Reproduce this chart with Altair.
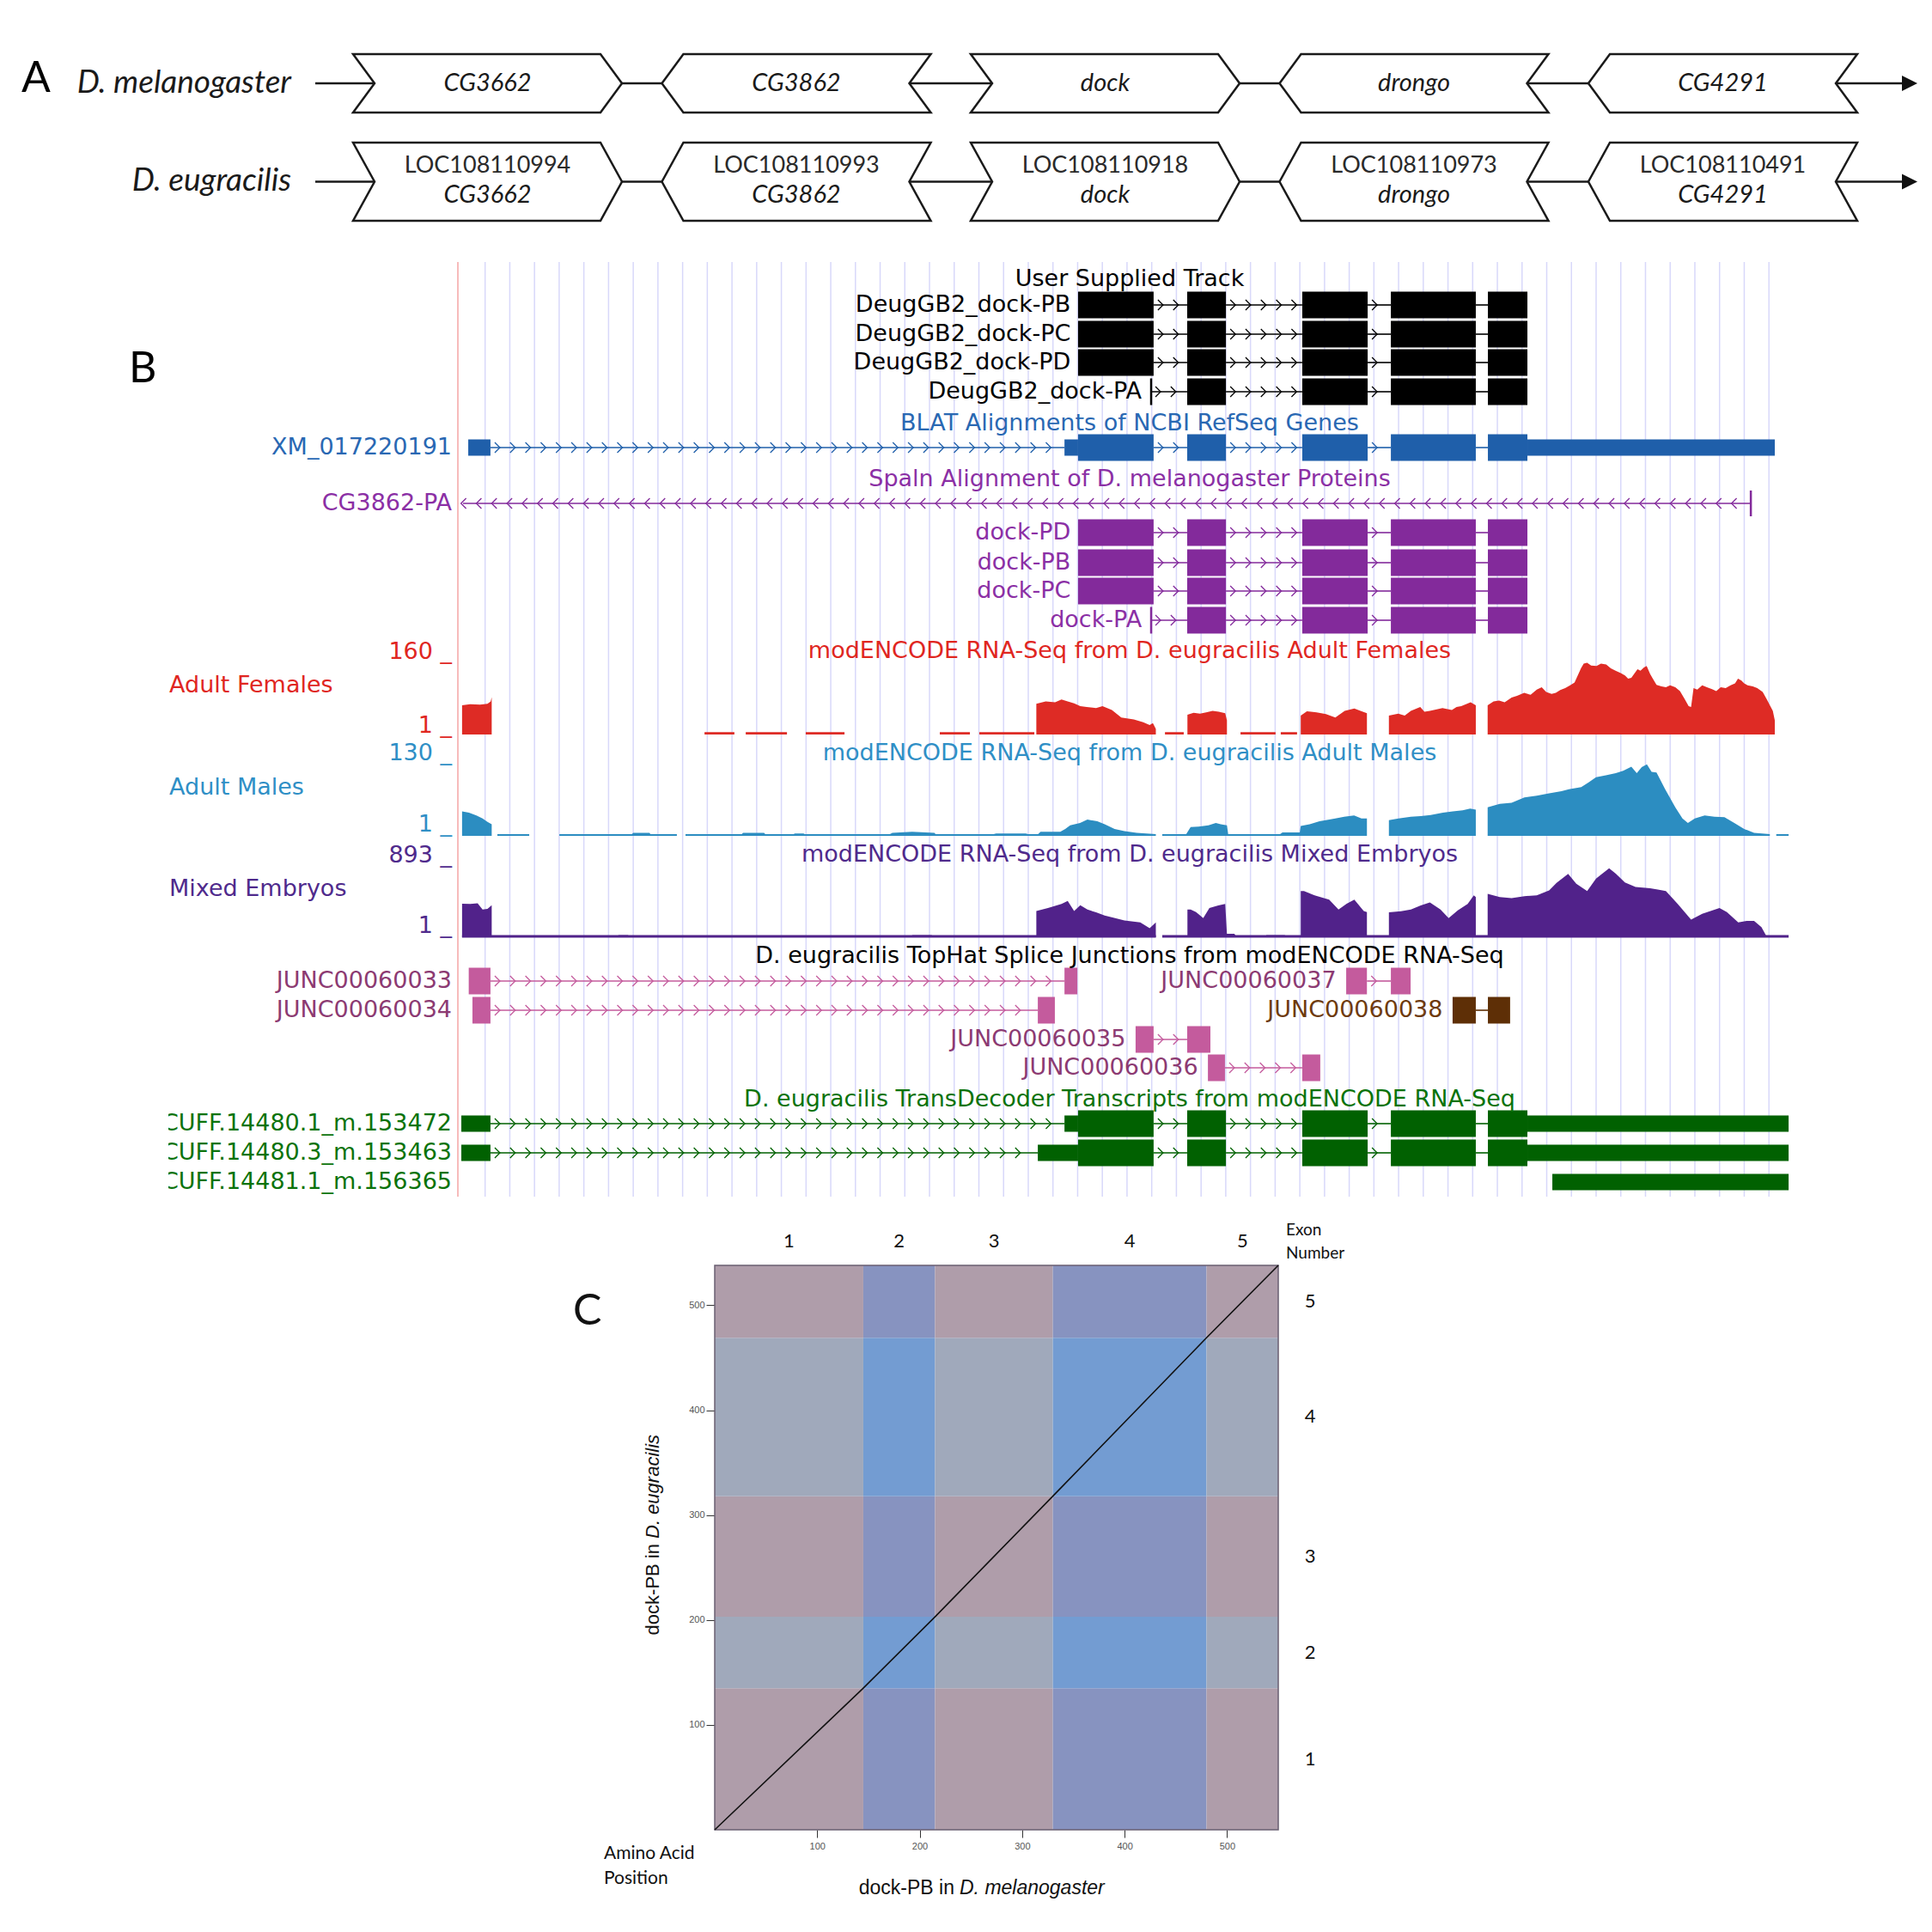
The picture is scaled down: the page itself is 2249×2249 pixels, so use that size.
import altair as alt
import pandas as pd

# ============================ DATA ============================
# ---- Panel A: gene neighbourhood ----
GENE_MEL = ["CG3662", "CG3862", "dock", "drongo", "CG4291"]
GENE_LOC = ["LOC108110994", "LOC108110993", "LOC108110918", "LOC108110973", "LOC108110491"]
GENE_DIR = [1, -1, 1, -1, -1]          # 1 = forward, -1 = reverse
SPECIES = ["D. melanogaster", "D. eugracilis"]

# ---- Panel B: genome browser (positions in kb across the window) ----
EXON_START = [25.12, 29.54, 34.20, 37.79, 41.72]
EXON_END = [28.18, 31.11, 36.85, 41.23, 43.32]
PA_START = 28.08
USER_TRACKS = ["DeugGB2_dock-PB", "DeugGB2_dock-PC", "DeugGB2_dock-PD", "DeugGB2_dock-PA"]
SPALN_TRACKS = ["dock-PD", "dock-PB", "dock-PC", "dock-PA"]
XM_NAME = "XM_017220191"
XM_UTR = [(0.42, 1.32), (24.57, 25.12), (43.32, 53.34)]
CG3862_NAME = "CG3862-PA"
CG3862_SPAN = (0.21, 52.37)
JUNC_NAMES = ["JUNC00060033", "JUNC00060034", "JUNC00060035",
              "JUNC00060036", "JUNC00060037", "JUNC00060038"]
JUNC_BLOCK1 = [(0.44, 1.32), (0.59, 1.32), (27.45, 28.18), (30.38, 31.07), (35.98, 36.82), (40.29, 41.23)]
JUNC_BLOCK2 = [(24.57, 25.09), (23.49, 24.18), (29.54, 30.48), (34.20, 34.93), (37.79, 38.59), (41.72, 42.62)]
CUFF_NAMES = ["CUFF.14480.1_m.153472", "CUFF.14480.3_m.153463", "CUFF.14481.1_m.156365"]
CUFF_UTR = [[(0.14, 1.32), (24.57, 25.12), (43.32, 53.90)],
            [(0.14, 1.32), (23.49, 25.12), (43.32, 53.90)],
            [(44.33, 53.90)]]
CUFF_HAS_CDS = [True, True, False]
TRACK_TITLES = ["User Supplied Track",
                "BLAT Alignments of NCBI RefSeq Genes",
                "Spaln Alignment of D. melanogaster Proteins",
                "modENCODE RNA-Seq from D. eugracilis Adult Females",
                "modENCODE RNA-Seq from D. eugracilis Adult Males",
                "modENCODE RNA-Seq from D. eugracilis Mixed Embryos",
                "D. eugracilis TopHat Splice Junctions from modENCODE RNA-Seq",
                "D. eugracilis TransDecoder Transcripts from modENCODE RNA-Seq"]
RNA_LABELS = ["Adult Females", "Adult Males", "Mixed Embryos"]
RNA_MAX = [160, 130, 893]

FEMALES = [
    [(0.17, 62), (0.5, 64), (0.9, 63), (1.2, 65), (1.33, 70), (1.37, 79)],
    [(9.99, 5), (11.20, 5)], [(11.66, 5), (13.33, 5)], [(14.09, 5), (15.66, 5)],
    [(19.52, 5), (20.74, 5)], [(21.12, 5), (23.35, 5)],
    [(23.43, 65), (23.81, 70), (24.19, 68), (24.45, 74), (24.70, 70), (24.96, 66), (25.21, 60),
     (25.47, 58), (25.85, 56), (26.11, 60), (26.49, 52), (26.87, 36), (27.38, 32), (27.76, 26),
     (28.02, 20), (28.15, 24), (28.27, 12)],
    [(28.64, 5), (29.40, 5)],
    [(29.55, 42), (29.80, 46), (30.06, 44), (30.31, 47), (30.57, 50), (30.82, 48), (31.08, 45), (31.15, 30)],
    [(31.70, 5), (33.12, 5)], [(33.33, 5), (33.99, 5)],
    [(34.14, 40), (34.39, 49), (34.78, 47), (35.16, 43), (35.54, 36), (35.92, 50), (36.31, 55),
     (36.56, 50), (36.82, 45)],
    [(37.71, 40), (38.09, 44), (38.35, 40), (38.60, 50), (38.98, 58), (39.15, 48), (39.37, 50),
     (39.88, 56), (40.26, 52), (40.45, 58), (40.64, 60), (41.02, 68), (41.23, 62)],
    [(41.71, 62), (41.95, 70), (42.17, 72), (42.40, 68), (42.68, 78), (42.90, 82), (43.19, 88),
     (43.45, 84), (43.70, 95), (43.90, 100), (44.08, 90), (44.30, 86), (44.47, 88), (44.65, 94),
     (44.85, 98), (45.05, 104), (45.23, 110), (45.49, 140), (45.60, 150), (45.74, 152), (45.90, 146),
     (46.12, 145), (46.30, 150), (46.51, 148), (46.70, 140), (46.89, 135), (47.10, 130), (47.27, 125),
     (47.40, 118), (47.53, 120), (47.78, 138), (47.90, 135), (48.04, 142), (48.15, 145), (48.29, 128),
     (48.40, 118), (48.55, 105), (48.75, 102), (48.93, 100), (49.10, 104), (49.31, 100), (49.50, 92),
     (49.69, 75), (49.85, 60), (49.95, 58), (50.05, 98), (50.20, 95), (50.40, 104), (50.59, 100),
     (50.80, 96), (50.97, 92), (51.15, 100), (51.35, 98), (51.55, 104), (51.73, 108), (51.85, 118),
     (51.99, 114), (52.10, 108), (52.24, 104), (52.45, 102), (52.63, 98), (52.85, 90), (53.01, 75),
     (53.26, 50), (53.34, 30)],
]
MALES = [
    [(0.17, 42), (0.45, 40), (0.75, 35), (1.0, 30), (1.2, 24), (1.37, 20)],
    [(1.60, 3), (2.89, 3)],
    [(4.11, 3), (7.05, 3), (7.10, 5), (7.76, 5), (7.80, 3), (8.87, 3)],
    [(9.22, 3), (11.50, 3), (11.55, 5), (12.40, 5), (12.45, 3), (13.60, 3), (13.65, 4), (14.00, 4),
     (14.05, 3), (17.50, 3), (17.60, 5), (18.40, 7), (19.30, 5), (19.35, 3), (21.70, 3), (21.80, 4),
     (23.00, 4), (23.10, 3), (23.50, 3), (23.60, 7), (24.40, 7), (24.60, 12), (24.80, 18), (25.20, 22),
     (25.50, 28), (25.90, 25), (26.20, 20), (26.60, 12), (27.00, 8), (27.50, 5), (28.27, 3)],
    [(28.53, 3), (29.50, 3), (29.68, 15), (30.00, 16), (30.40, 18), (30.70, 22), (30.90, 20),
     (31.15, 18), (31.20, 3), (33.30, 3), (33.40, 6), (34.10, 6), (34.14, 17), (34.50, 20),
     (34.90, 25), (35.30, 28), (35.54, 30), (35.90, 33), (36.30, 35), (36.60, 30), (36.82, 30)],
    [(37.71, 27), (38.10, 30), (38.60, 33), (39.00, 34), (39.40, 36), (39.90, 40), (40.30, 42),
     (40.70, 44), (41.00, 47), (41.23, 45)],
    [(41.71, 49), (42.20, 55), (42.68, 57), (43.20, 66), (43.70, 69), (44.20, 73), (44.70, 77),
     (45.00, 80), (45.50, 84), (45.80, 92), (46.10, 101), (46.50, 104), (46.90, 108), (47.20, 112),
     (47.53, 119), (47.75, 108), (47.95, 118), (48.16, 123), (48.35, 110), (48.55, 109), (48.90, 80),
     (49.31, 49), (49.60, 30), (49.82, 22), (50.10, 30), (50.50, 35), (50.90, 33), (51.30, 32),
     (51.70, 22), (52.10, 12), (52.50, 5), (53.14, 3)],
    [(53.40, 3), (53.90, 3)],
]
EMBRYOS = [
    [(0.17, 400), (0.50, 399), (0.80, 405), (1.00, 331), (1.20, 340), (1.37, 382)],
    [(6.50, 25), (6.90, 25)],
    [(18.40, 25), (19.20, 25)],
    [(23.43, 314), (23.90, 350), (24.45, 399), (24.70, 433), (24.96, 314), (25.21, 382), (25.50, 330),
     (25.85, 297), (26.20, 260), (26.62, 228), (27.00, 200), (27.64, 177), (28.02, 109), (28.27, 177)],
    [(29.55, 331), (29.68, 331), (29.90, 300), (30.19, 228), (30.44, 348), (30.80, 380), (31.08, 399),
     (31.15, 41), (31.45, 41), (31.50, 20), (31.97, 20)],
    [(32.74, 25), (33.50, 25)],
    [(34.14, 552), (34.27, 552), (34.70, 500), (35.29, 450), (35.67, 331), (36.00, 400), (36.31, 450),
     (36.69, 314), (36.82, 300)],
    [(37.71, 297), (38.20, 310), (38.60, 331), (39.00, 380), (39.37, 416), (39.80, 330), (40.13, 228),
     (40.50, 320), (40.90, 399), (41.15, 501), (41.23, 480)],
    [(41.71, 518), (42.20, 480), (42.68, 467), (43.20, 490), (43.70, 501), (44.20, 560), (44.50, 650),
     (44.97, 757), (45.30, 640), (45.74, 552), (46.10, 700), (46.63, 825), (46.90, 760), (47.27, 654),
     (47.70, 600), (48.29, 586), (48.60, 570), (48.93, 552), (49.40, 400), (49.95, 211), (50.40, 280),
     (51.10, 348), (51.40, 300), (51.86, 177), (52.20, 194), (52.50, 194), (52.80, 120), (53.01, 7)],
]
EMBRYO_BASELINE = [(0.17, 28.27), (28.53, 53.90)]

# ---- Panel C: dot plot of dock-PB (amino-acid positions) ----
EXON_X = [0, 145, 215, 330, 480, 550]   # D. melanogaster exon boundaries
EXON_Y = [0, 135, 203, 318, 469, 538]   # D. eugracilis exon boundaries
DOT_X = [0, 145, 215, 330, 480, 550]
DOT_Y = [0, 135, 203, 318, 469, 538]
TICKS_AA = [100, 200, 300, 400, 500]

# ============================ PANEL A ============================
AX = alt.Scale(domain=[8, 2241], range=[0, 2233], nice=False, zero=False)
AY = alt.Scale(domain=[8, 290], range=[0, 282], nice=False, zero=False)
A_ROWS = [(63, 131), (166, 257)]
A_LEFT0, A_STEP, A_WIDTH, A_NOTCH = 411, 359.5, 313, 25
A_LINE_START, A_ARROW_TIP = 367, 2232

poly, conn, arrow = [], [], []
for r, (top, bot) in enumerate(A_ROWS):
    mid = (top + bot) / 2
    prev_out = A_LINE_START
    for i, d in enumerate(GENE_DIR):
        L = A_LEFT0 + i * A_STEP
        R = L + A_WIDTH
        n = A_NOTCH
        if d == 1:
            pts = [(L, top), (R - n, top), (R, mid), (R - n, bot), (L, bot), (L + n, mid)]
            xin, xout = L + n, R
        else:
            pts = [(L + n, top), (R, top), (R - n, mid), (R, bot), (L + n, bot), (L, mid)]
            xin, xout = L, R - n
        for k, (x, y) in enumerate(pts):
            poly.append(dict(pid=f"{r}-{i}", k=k, x=x, y=y))
        conn.append(dict(x1=prev_out, x2=xin, y=mid))
        prev_out = xout
    conn.append(dict(x1=prev_out, x2=A_ARROW_TIP - 10, y=mid))
    arrow.append(dict(x=A_ARROW_TIP - 9, y=mid))

a_mel, a_loc, a_eugname = [], [], []
for i in range(len(GENE_MEL)):
    cx = A_LEFT0 + i * A_STEP + A_WIDTH / 2
    a_mel.append(dict(x=cx, y=97, t=GENE_MEL[i]))
    a_loc.append(dict(x=cx, y=193, t=GENE_LOC[i]))
    a_eugname.append(dict(x=cx, y=227, t=GENE_MEL[i]))


def a_enc():
    return dict(x=alt.X("x:Q", scale=AX, axis=None), y=alt.Y("y:Q", scale=AY, axis=None))


def a_text(rows, size, style="normal", align="center", baseline="middle", color="#1a1a1a"):
    return alt.Chart(pd.DataFrame(rows)).mark_text(
        font="Lato", fontSize=size, fontStyle=style, align=align, baseline=baseline, color=color
    ).encode(text="t:N", **a_enc())


A_conn = alt.Chart(pd.DataFrame(conn)).mark_rule(color="#1a1a1a", strokeWidth=2.5).encode(
    x=alt.X("x1:Q", scale=AX, axis=None), x2="x2:Q", y=alt.Y("y:Q", scale=AY, axis=None))
A_poly = alt.Chart(pd.DataFrame(poly)).mark_line(
    interpolate="linear-closed", color="#1a1a1a", strokeWidth=2.5, strokeJoin="miter"
).encode(detail="pid:N", order="k:Q", **a_enc())
A_arrow = alt.Chart(pd.DataFrame(arrow)).mark_point(
    shape="M-1,-1L1,0L-1,1Z", filled=True, size=324, color="#111", opacity=1
).encode(**a_enc())

chartA = alt.layer(
    A_conn, A_poly, A_arrow,
    a_text(a_mel, 29, "italic"),
    a_text(a_loc, 27, "normal", color="#2a2a2a"),
    a_text(a_eugname, 29, "italic"),
    a_text([dict(x=339, y=97, t=SPECIES[0]), dict(x=339, y=211, t=SPECIES[1])], 37, "italic", align="right"),
    a_text([dict(x=25, y=107, t="A")], 50, "normal", align="left", baseline="alphabetic", color="#000"),
).properties(width=2233, height=282)

# ============================ PANEL B ============================
def kbx(px):
    return (px - 533) / 28.74


XB = alt.Scale(domain=[kbx(8), kbx(2241)], nice=False, zero=False)
YB = alt.Scale(domain=[290, 1473], range=[0, 1183], nice=False, zero=False)

C_USER, C_BLAT, C_BLAT_T = "#000000", "#1F5FAA", "#2968B3"
C_SPALN, C_SPALN_T = "#832A9B", "#8B2FA5"
C_FEM, C_MAL, C_EMB = "#DE2B25", "#2C8DC1", "#51228A"
C_JUNC, C_JUNC_T, C_J38, C_J38_T = "#C45B9D", "#8C3A72", "#5E2F06", "#6E3A0D"
C_CUFF, C_CUFF_T = "#016101", "#0B730B"

THICK, THIN = 15.5, 9.5
CHEV_R = "M-0.6,-1L0.4,0L-0.6,1"
CHEV_L = "M0.6,-1L-0.4,0L0.6,1"
blocks, introns, chevs, ticks, rlabels = [], [], [], [], []


def add_chevrons(a, b, y, color, shape):
    p = a + 0.30
    while p <= b - 0.25:
        chevs.append(dict(x=p, y=y, c=color, s=shape))
        p += 0.62


def model(y, color, thick=(), thin=(), lead=None, shape=CHEV_R):
    segs = sorted([(a, b, THICK) for a, b in thick] + [(a, b, THIN) for a, b in thin])
    for a, b, h in segs:
        blocks.append(dict(x1=a, x2=b, y1=y - h, y2=y + h, c=color))
    for (a1, b1, _), (a2, b2, _) in zip(segs, segs[1:]):
        if a2 - b1 > 0.05:
            introns.append(dict(x1=b1, x2=a2, y=y, c=color))
            add_chevrons(b1, a2, y, color, shape)
    if lead is not None:
        introns.append(dict(x1=lead, x2=segs[0][0], y=y, c=color))
        add_chevrons(lead, segs[0][0], y, color, shape)
        ticks.append(dict(x=lead, y1=y - THICK, y2=y + THICK, c=color))


EXONS = list(zip(EXON_START, EXON_END))
LBL_GAP = 0.30
USER_Y = [355, 389, 422, 456]
SPALN_Y = [620, 655, 688, 722]
for rows_y, names, col, tcol in [(USER_Y, USER_TRACKS, C_USER, C_USER), (SPALN_Y, SPALN_TRACKS, C_SPALN, C_SPALN_T)]:
    for y, name in zip(rows_y, names):
        if name.endswith("-PA"):
            model(y, col, thick=EXONS[1:], lead=PA_START)
            rlabels.append(dict(x=PA_START - 0.38, y=y, t=name, c=tcol))
        else:
            model(y, col, thick=EXONS)
            rlabels.append(dict(x=EXON_START[0] - LBL_GAP, y=y, t=name, c=tcol))

LEFT_LBL = kbx(526)
XM_Y, CG_Y = 521, 586
model(XM_Y, C_BLAT, thick=EXONS, thin=XM_UTR)
rlabels.append(dict(x=LEFT_LBL, y=XM_Y, t=XM_NAME, c=C_BLAT_T))
introns.append(dict(x1=CG3862_SPAN[0], x2=CG3862_SPAN[1], y=CG_Y, c=C_SPALN))
add_chevrons(CG3862_SPAN[0] - 0.3, CG3862_SPAN[1], CG_Y, C_SPALN, CHEV_L)
ticks.append(dict(x=CG3862_SPAN[1], y1=CG_Y - 15, y2=CG_Y + 15, c=C_SPALN))
rlabels.append(dict(x=LEFT_LBL, y=CG_Y, t=CG3862_NAME, c=C_SPALN_T))

JUNC_Y = [1142, 1176, 1210, 1243, 1142, 1176]
for k, name in enumerate(JUNC_NAMES):
    col, tcol = (C_J38, C_J38_T) if k == 5 else (C_JUNC, C_JUNC_T)
    model(JUNC_Y[k], col, thick=[JUNC_BLOCK1[k], JUNC_BLOCK2[k]])
    lx = LEFT_LBL if k < 2 else JUNC_BLOCK1[k][0] - 0.40
    rlabels.append(dict(x=lx, y=JUNC_Y[k], t=name, c=tcol))

CUFF_Y = [1308, 1342, 1376]
for k, name in enumerate(CUFF_NAMES):
    model(CUFF_Y[k], C_CUFF, thick=EXONS if CUFF_HAS_CDS[k] else (), thin=CUFF_UTR[k])
    rlabels.append(dict(x=LEFT_LBL, y=CUFF_Y[k], t=name, c=C_CUFF_T))

SCALE_Y = [(759, 845), (877, 960), (996, 1078)]
RNA_COL = [C_FEM, C_MAL, C_EMB]
RNA_TCOL = ["#E0261F", "#2F8FC6", "#4F2A8C"]
for (ytop, ybot), mx, tc in zip(SCALE_Y, RNA_MAX, RNA_TCOL):
    rlabels.append(dict(x=LEFT_LBL, y=ytop, t=f"{mx} _", c=tc))
    rlabels.append(dict(x=LEFT_LBL, y=ybot, t="1 _", c=tc))

TITLE_Y = [325, 493, 558, 758, 877, 995, 1113, 1280]
TITLE_C = ["#000000", C_BLAT_T, C_SPALN_T, RNA_TCOL[0], RNA_TCOL[1], RNA_TCOL[2], "#000000", C_CUFF_T]
titles = [dict(x=kbx(1315), y=y, t=t, c=c) for t, y, c in zip(TRACK_TITLES, TITLE_Y, TITLE_C)]
side = [dict(x=kbx(197), y=y, t=t, c=c) for t, y, c in zip(RNA_LABELS, [798, 917, 1035], RNA_TCOL)]

grid = pd.DataFrame([dict(x=kbx(564.7) + k, y1=305, y2=1393) for k in range(53)])


def xb(f="x"):
    return alt.X(f"{f}:Q", scale=XB, axis=None)


def yb(f="y"):
    return alt.Y(f"{f}:Q", scale=YB, axis=None)


def b_text(rows, align, size=27, font="DejaVu Sans", baseline="middle", style="normal"):
    return alt.Chart(pd.DataFrame(rows)).mark_text(
        align=align, baseline=baseline, font=font, fontSize=size, fontStyle=style
    ).encode(x=xb(), y=yb(), text="t:N", color=alt.Color("c:N", scale=None))


def coverage(segments, color, vmax, y_base, y_top):
    rows = [dict(seg=s, x=x, v=v, b=0) for s, pts in enumerate(segments) for x, v in pts]
    ys = alt.Scale(domain=[0, vmax], range=[y_base - 290, y_top - 290], nice=False, zero=False)
    return alt.Chart(pd.DataFrame(rows)).mark_area(color=color, interpolate="linear").encode(
        x=xb(), y=alt.Y("v:Q", scale=ys, axis=None), y2="b:Q", detail="seg:N")


B_layers = [
    alt.Chart(grid).mark_rule(color="#D8D8FA", strokeWidth=1.5).encode(x=xb(), y=yb("y1"), y2="y2:Q"),
    alt.Chart(pd.DataFrame([dict(x=0, y1=305, y2=1393)])).mark_rule(color="#F5A5A5", strokeWidth=1.5).encode(
        x=xb(), y=yb("y1"), y2="y2:Q"),
    alt.Chart(pd.DataFrame(introns)).mark_rule(strokeWidth=1.6).encode(
        x=xb("x1"), x2="x2:Q", y=yb(), color=alt.Color("c:N", scale=None)),
    alt.Chart(pd.DataFrame(chevs)).mark_point(filled=False, size=144, strokeWidth=1.3, opacity=1).encode(
        x=xb(), y=yb(), color=alt.Color("c:N", scale=None), shape=alt.Shape("s:N", scale=None)),
    alt.Chart(pd.DataFrame(ticks)).mark_rule(strokeWidth=2.5).encode(
        x=xb(), y=yb("y1"), y2="y2:Q", color=alt.Color("c:N", scale=None)),
    alt.Chart(pd.DataFrame(blocks)).mark_rect().encode(
        x=xb("x1"), x2="x2:Q", y=yb("y1"), y2="y2:Q", color=alt.Color("c:N", scale=None)),
    coverage(FEMALES, C_FEM, RNA_MAX[0], 855, 767),
    coverage(MALES, C_MAL, RNA_MAX[1], 973, 885),
    coverage(EMBRYOS, C_EMB, RNA_MAX[2], 1091, 1004),
    alt.Chart(pd.DataFrame([dict(x1=a, x2=b, y=1090) for a, b in EMBRYO_BASELINE])).mark_rule(
        color=C_EMB, strokeWidth=3).encode(x=xb("x1"), x2="x2:Q", y=yb()),
    b_text(rlabels, "right"),
    b_text(titles, "center"),
    b_text(side, "left"),
    alt.Chart(pd.DataFrame([dict(x1=kbx(120), x2=kbx(196), y1=1290, y2=1398)])).mark_rect(color="white").encode(
        x=xb("x1"), x2="x2:Q", y=yb("y1"), y2="y2:Q"),
    alt.Chart(pd.DataFrame([dict(x=kbx(150), y=445, t="B", c="#000000")])).mark_text(
        align="left", baseline="alphabetic", font="Lato", fontSize=50).encode(
        x=xb(), y=yb(), text="t:N", color=alt.Color("c:N", scale=None)),
]
chartB = alt.layer(*B_layers).resolve_scale(y="independent").properties(width=2233, height=1183)

# ============================ PANEL C ============================
XC = alt.Scale(domain=[EXON_X[0], EXON_X[-1]], nice=False, zero=False)
YC = alt.Scale(domain=[EXON_Y[0], EXON_Y[-1]], nice=False, zero=False)
axX = alt.Axis(values=TICKS_AA, title=None, domain=False, grid=False, tickSize=9, tickColor="#333",
               labelFontSize=11, labelColor="#555", labelFont="Liberation Sans", labelPadding=4)
axY = alt.Axis(values=TICKS_AA, title=None, domain=False, grid=False, tickSize=10, tickColor="#333",
               labelFontSize=11, labelColor="#555", labelFont="Liberation Sans", labelPadding=2)

CELL_COL = {"oo": "#AF9DAA", "eo": "#8793C0", "oe": "#A0A9BB", "ee": "#739CD2"}
cells = []
for i in range(5):
    for j in range(5):
        kind = ("e" if i % 2 else "o") + ("e" if j % 2 else "o")
        cells.append(dict(x1=EXON_X[i], x2=EXON_X[i + 1], y1=EXON_Y[j], y2=EXON_Y[j + 1], kind=kind))

C_cells = alt.Chart(pd.DataFrame(cells)).mark_rect().encode(
    x=alt.X("x1:Q", scale=XC, axis=axX), x2="x2:Q",
    y=alt.Y("y1:Q", scale=YC, axis=axY), y2="y2:Q",
    color=alt.Color("kind:N", scale=alt.Scale(domain=list(CELL_COL), range=list(CELL_COL.values())), legend=None))
C_border = alt.Chart(pd.DataFrame([dict(x1=EXON_X[0], x2=EXON_X[-1], y1=EXON_Y[0], y2=EXON_Y[-1])])).mark_rect(
    fillOpacity=0, stroke="#6A5F72", strokeWidth=1.5).encode(
    x=alt.X("x1:Q", scale=XC, axis=axX), x2="x2:Q", y=alt.Y("y1:Q", scale=YC, axis=axY), y2="y2:Q")
C_line = alt.Chart(pd.DataFrame(dict(x=DOT_X, y=DOT_Y, k=range(len(DOT_X))))).mark_line(
    color="#111111", strokeWidth=1.6).encode(
    x=alt.X("x:Q", scale=XC, axis=axX), y=alt.Y("y:Q", scale=YC, axis=axY), order="k:Q")

exon_top = pd.DataFrame(dict(x=[(EXON_X[i] + EXON_X[i + 1]) / 2 for i in range(5)], t=[str(i + 1) for i in range(5)]))
exon_right = pd.DataFrame(dict(y=[(EXON_Y[i] + EXON_Y[i + 1]) / 2 for i in range(5)], t=[str(i + 1) for i in range(5)]))
C_top = alt.Chart(exon_top).mark_text(font="Lato", fontSize=22, color="#111", baseline="middle").encode(
    x=alt.X("x:Q", scale=XC, axis=axX), y=alt.value(1445 - 1473), text="t:N")
C_right = alt.Chart(exon_right).mark_text(font="Lato", fontSize=22, color="#111", baseline="middle").encode(
    y=alt.Y("y:Q", scale=YC, axis=axY), x=alt.value(1525 - 832), text="t:N")

one = pd.DataFrame(dict(v=[0]))


def c_note(text, x, y, size, align="left", font="Lato", style="normal", angle=0, baseline="middle"):
    return alt.Chart(one).mark_text(text=text, font=font, fontSize=size, fontStyle=style, align=align,
                                    baseline=baseline, angle=angle, color="#111").encode(
        x=alt.value(x), y=alt.value(y))


SPACE_PX = 6
chartC = alt.layer(
    C_cells, C_border, C_line, C_top, C_right,
    c_note("Exon", 1497 - 832, 1432 - 1473, 19),
    c_note("Number", 1497 - 832, 1459 - 1473, 19),
    c_note("C", 667 - 832, 1527 - 1473, 50, baseline="middle"),
    c_note("Amino Acid", 703 - 832, 2158 - 1473, 21),
    c_note("Position", 703 - 832, 2187 - 1473, 21),
    c_note("dock-PB in", 1111 - 832, 2198 - 1473, 23, align="right", font="Liberation Sans"),
    c_note("D. melanogaster", 1111 - 832 + SPACE_PX, 2198 - 1473, 23, align="left",
           font="Liberation Sans", style="italic"),
    c_note("dock-PB in", 760 - 832, 1797 - 1473, 22, align="right", font="Liberation Sans", angle=270),
    c_note("D. eugracilis", 760 - 832, 1797 - 1473 - SPACE_PX, 22, align="left",
           font="Liberation Sans", style="italic", angle=270),
).properties(width=656, height=657)

spacer = alt.Chart(one).mark_point(opacity=0).encode(
    x=alt.X("v:Q", axis=None), y=alt.Y("v:Q", axis=None)).properties(width=824, height=657)

rowC = alt.hconcat(spacer, chartC, spacing=0, bounds="flush")

chart = alt.vconcat(chartA, chartB, rowC, spacing=0, bounds="flush").properties(
    padding=0, background="white").configure_view(strokeWidth=0)

chart.save("out.html", embed_options={"renderer": "svg", "actions": False})
